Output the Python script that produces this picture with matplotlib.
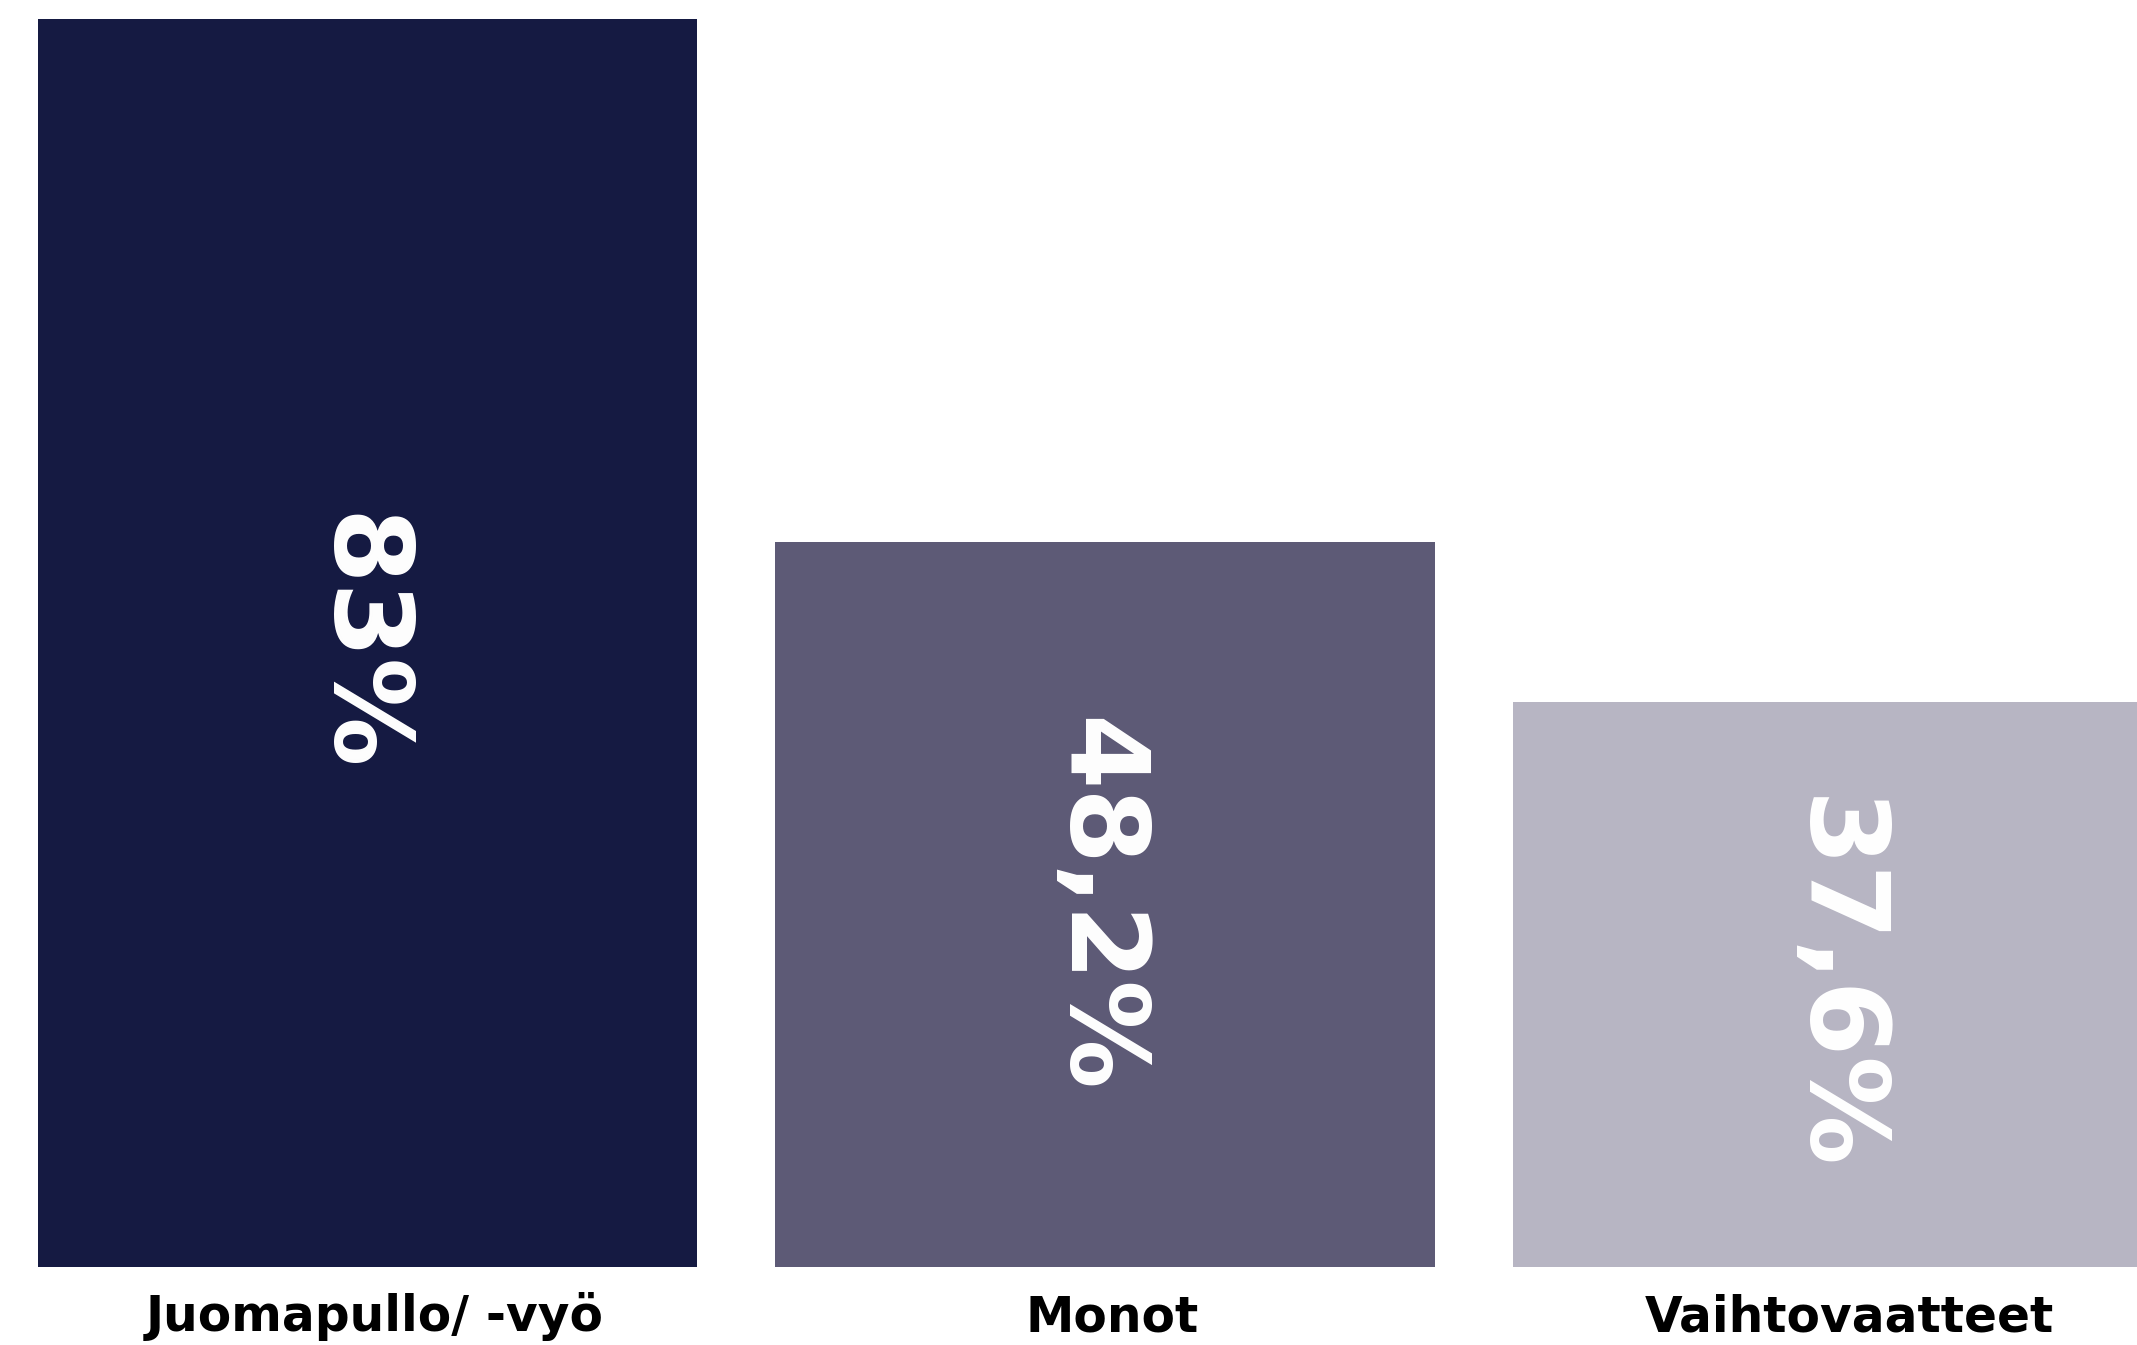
import matplotlib
matplotlib.use("Agg")
import matplotlib.pyplot as plt
from matplotlib.transforms import blended_transform_factory

categories = ["Juomapullo/ -vyö", "Monot", "Vaihtovaatteet"]
values = [83, 48.2, 37.6]
value_labels = ["83%", "48,2%", "37,6%"]
colors = ["#151a42", "#5d5a76", "#b7b5c3"]

W, H = 2137, 1345
fig = plt.figure(figsize=(W / 100, H / 100), dpi=100)
fig.patch.set_facecolor("white")

ax_bottom_px, ax_top_px = 1267, 19
ax = fig.add_axes([0, 1 - ax_bottom_px / H, 1, (ax_bottom_px - ax_top_px) / H])
ax.set_facecolor("white")

x = list(range(len(categories)))
width = 0.8936
ax.bar(x, values, width=width, color=colors)
ax.set_ylim(0, max(values))
ax.set_xlim(-0.4983, 2.3993)
ax.axis("off")

for xi, v, lab in zip(x, values, value_labels):
    ax.text(xi - 0.012, v / 2, lab, rotation=270, ha="center", va="center",
            color="white", fontsize=78, fontweight="bold",
            family="DejaVu Sans", rotation_mode="anchor")

trans = blended_transform_factory(ax.transData, ax.transAxes)
yoff = -(1331 - ax_bottom_px) / (ax_bottom_px - ax_top_px)
for xi, cat in zip(x, categories):
    ax.text(xi + 0.01, yoff, cat, ha="center", va="baseline", color="black",
            fontsize=35, fontweight="bold", family="DejaVu Sans",
            transform=trans, clip_on=False)

fig.savefig("out.png", dpi=100, facecolor="white")
